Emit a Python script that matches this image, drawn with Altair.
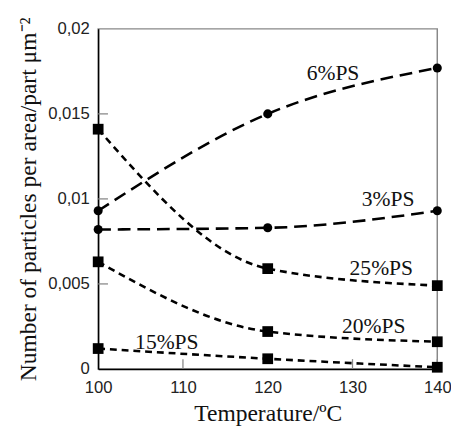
import altair as alt
import pandas as pd

temps = [100, 120, 140]
series_names = ["6%PS", "3%PS", "25%PS", "20%PS", "15%PS"]
v6 = [0.0093, 0.0150, 0.0177]
v3 = [0.0082, 0.0083, 0.0093]
v25 = [0.0141, 0.0059, 0.0049]
v20 = [0.0063, 0.0022, 0.0016]
v15 = [0.0012, 0.0006, 0.0001]
markers = ["circle", "circle", "square", "square", "square"]
dash_group = ["long", "long", "short", "short", "short"]

label_x = [127.7, 134.2, 133.4, 132.5, 108.1]
label_y = [0.0174, 0.0100, 0.0059, 0.0025, 0.0016]

x_tick_vals = [110, 130, 140]
y_tick_vals = [0.005, 0.01, 0.015]

rows = []
for name, vals, mk, dg in zip(series_names, [v6, v3, v25, v20, v15], markers, dash_group):
    for t, v in zip(temps, vals):
        rows.append({"series": name, "temp": t, "value": v, "marker": mk, "dash": dg})
df = pd.DataFrame(rows)
labels_df = pd.DataFrame({"text": series_names, "x": label_x, "y": label_y})

W, H = 346, 347
xs = alt.Scale(domain=[100, 140], nice=False, zero=False)
ys = alt.Scale(domain=[0, 0.02], nice=False)

serif = "Liberation Serif"
sans = "Liberation Sans"

x_enc = alt.X("temp:Q", scale=xs, axis=alt.Axis(
    title="Temperature/ºC", values=[100, 110, 120, 130, 140], format="d",
    grid=False, ticks=False, labelPadding=11, labelFont=sans, labelFontSize=17,
    labelColor="#222", titleFont=serif, titleFontSize=24, titleFontWeight="normal",
    titleColor="#111", titlePadding=7, domainColor="#000", domainWidth=1.5,
    labelFlush=False))
y_enc = alt.Y("value:Q", scale=ys, axis=alt.Axis(
    title="Number of particles per area/part μm⁻²",
    values=[0, 0.005, 0.01, 0.015, 0.02],
    labelExpr="replace(toString(datum.value), '.', ',')",
    grid=False, ticks=False, labelPadding=9, labelFont=sans, labelFontSize=17,
    labelColor="#222", titleFont=serif, titleFontSize=24, titleFontWeight="normal",
    titleColor="#111", titlePadding=7, domainColor="#000", domainWidth=1.5,
    labelFlush=False))

base = alt.Chart(df)

long_lines = base.transform_filter(alt.datum.dash == "long").mark_line(
    interpolate="monotone", color="black", strokeWidth=2.6, strokeDash=[13, 7]
).encode(x=x_enc, y=y_enc, detail="series:N")

short_lines = base.transform_filter(alt.datum.dash == "short").mark_line(
    interpolate="monotone", color="black", strokeWidth=2.6, strokeDash=[7, 5]
).encode(x=x_enc, y=y_enc, detail="series:N")

circles = base.transform_filter(alt.datum.marker == "circle").mark_point(
    shape="circle", filled=True, color="black", opacity=1, size=85
).encode(x=x_enc, y=y_enc)

squares = base.transform_filter(alt.datum.marker == "square").mark_point(
    shape="square", filled=True, color="black", opacity=1, size=120
).encode(x=x_enc, y=y_enc)

xt = alt.Chart(pd.DataFrame({"t": x_tick_vals})).mark_rule(
    color="#888", strokeWidth=1.3
).encode(x=alt.X("t:Q", scale=xs), y=alt.value(H - 10), y2=alt.value(H))

yt = alt.Chart(pd.DataFrame({"t": y_tick_vals})).mark_rule(
    color="#888", strokeWidth=1.3
).encode(y=alt.Y("t:Q", scale=ys), x=alt.value(0), x2=alt.value(10))

texts = alt.Chart(labels_df).mark_text(
    font=serif, fontSize=22, color="#111", align="center", baseline="middle"
).encode(x=alt.X("x:Q", scale=xs), y=alt.Y("y:Q", scale=ys), text="text:N")

chart = alt.layer(xt, yt, long_lines, short_lines, circles, squares, texts).properties(
    width=W, height=H,
    padding={"left": 92, "top": 17, "right": 14, "bottom": 58},
    autosize=alt.AutoSizeParams(type="none"),
    background="white",
).configure_view(stroke="#888", strokeWidth=1.5)

chart.save("out.html", embed_options={"renderer": "svg", "actions": False})
